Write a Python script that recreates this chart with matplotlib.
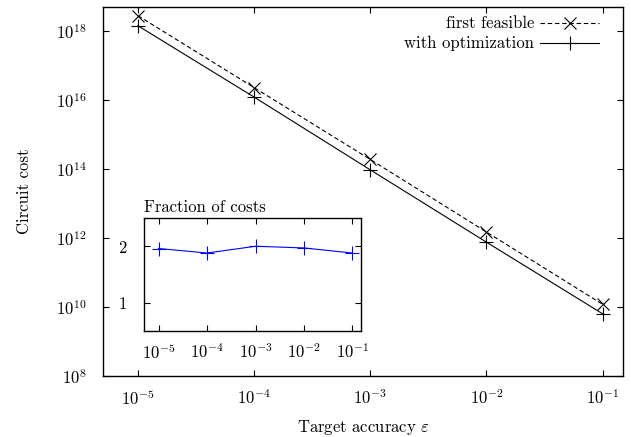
import matplotlib
matplotlib.use("Agg")
import matplotlib.pyplot as plt
from matplotlib.lines import Line2D
import numpy as np

plt.rcParams['font.family'] = 'serif'
plt.rcParams['font.serif'] = ['cmr10']
plt.rcParams['mathtext.fontset'] = 'cm'
plt.rcParams['axes.formatter.use_mathtext'] = True
plt.rcParams['axes.unicode_minus'] = True

# data
eps = [1e-5, 1e-4, 1e-3, 1e-2, 1e-1]
first_feasible = [2.8e18, 2.3e16, 1.9e14, 1.5e12, 1.2e10]
fraction = [1.96, 1.88, 2.00, 1.97, 1.88]
with_opt = [f / r for f, r in zip(first_feasible, fraction)]

series_labels = ["first feasible", "with optimization"]
xlabel = r"Target accuracy $\varepsilon$"
ylabel = "Circuit cost"
inset_title = "Fraction of costs"

W, H = 631, 437
fig = plt.figure(figsize=(W / 100, H / 100), dpi=100)

def px_axes(l, t, r, b):
    return fig.add_axes([l / W, 1 - b / H, (r - l) / W, (b - t) / H])

ax = px_axes(103, 7, 623, 376)
ax.set_xscale('log')
ax.set_yscale('log')
ax.plot(eps, first_feasible, color='black', lw=0.8, ls=(0, (4, 2.5)),
        marker='x', ms=9, mew=0.8)
ax.plot(eps, with_opt, color='black', lw=0.8, ls='-',
        marker='+', ms=10, mew=0.8)
ax.set_xlim(5e-6, 0.15)
ax.set_ylim(1e8, 5e18)
ax.set_xticks(eps)
ax.set_yticks([1e8, 1e10, 1e12, 1e14, 1e16, 1e18])
ax.minorticks_off()
ax.tick_params(which='both', direction='in', top=True, right=True,
               length=4.5, width=0.8, labelsize=12, pad=9)
ax.tick_params(axis='y', pad=12)
for s in ax.spines.values():
    s.set_linewidth(1.0)
ax.set_xlabel(xlabel, fontsize=12, labelpad=7)
ax.set_ylabel(ylabel, fontsize=12, labelpad=17)

# manual legend (text right-aligned, sample to the right)
trans = ax.transAxes
def ax_xy(px, py):
    return ((px - 103) / (623 - 103), (376 - py) / (376 - 7))
for i, (lab, ls, mk, ms) in enumerate([(series_labels[0], (0, (4, 2.5)), 'x', 9),
                                        (series_labels[1], '-', '+', 10)]):
    yy = 23 + i * 20
    tx, ty = ax_xy(534, yy)
    ax.text(tx, ty, lab, transform=trans, ha='right', va='center', fontsize=12)
    x0, _ = ax_xy(540, yy)
    x1, _ = ax_xy(599, yy)
    xm, _ = ax_xy(570, yy)
    ax.add_line(Line2D([x0, x1], [ty, ty], transform=trans, color='black',
                       lw=0.8, ls=ls))
    ax.add_line(Line2D([xm], [ty], transform=trans, color='black',
                       marker=mk, ms=ms, mew=0.8, ls='none'))

# inset
ins = px_axes(144, 218, 361, 331)
ins.set_xscale('log')
ins.plot(eps, fraction, color='blue', lw=0.8, marker='+', ms=10, mew=0.8)
ins.set_xlim(5e-6, 0.15)
ins.set_ylim(0.5, 2.5)
ins.set_xticks(eps)
ins.set_yticks([1, 2])
ins.minorticks_off()
ins.tick_params(which='both', direction='in', top=True, right=True,
                length=4.5, width=0.8, labelsize=12, pad=8)
ins.tick_params(axis='y', pad=12)
for s in ins.spines.values():
    s.set_linewidth(1.0)
ins.set_title(inset_title, fontsize=12, loc='left', pad=4)

fig.savefig("out.png", dpi=100)
